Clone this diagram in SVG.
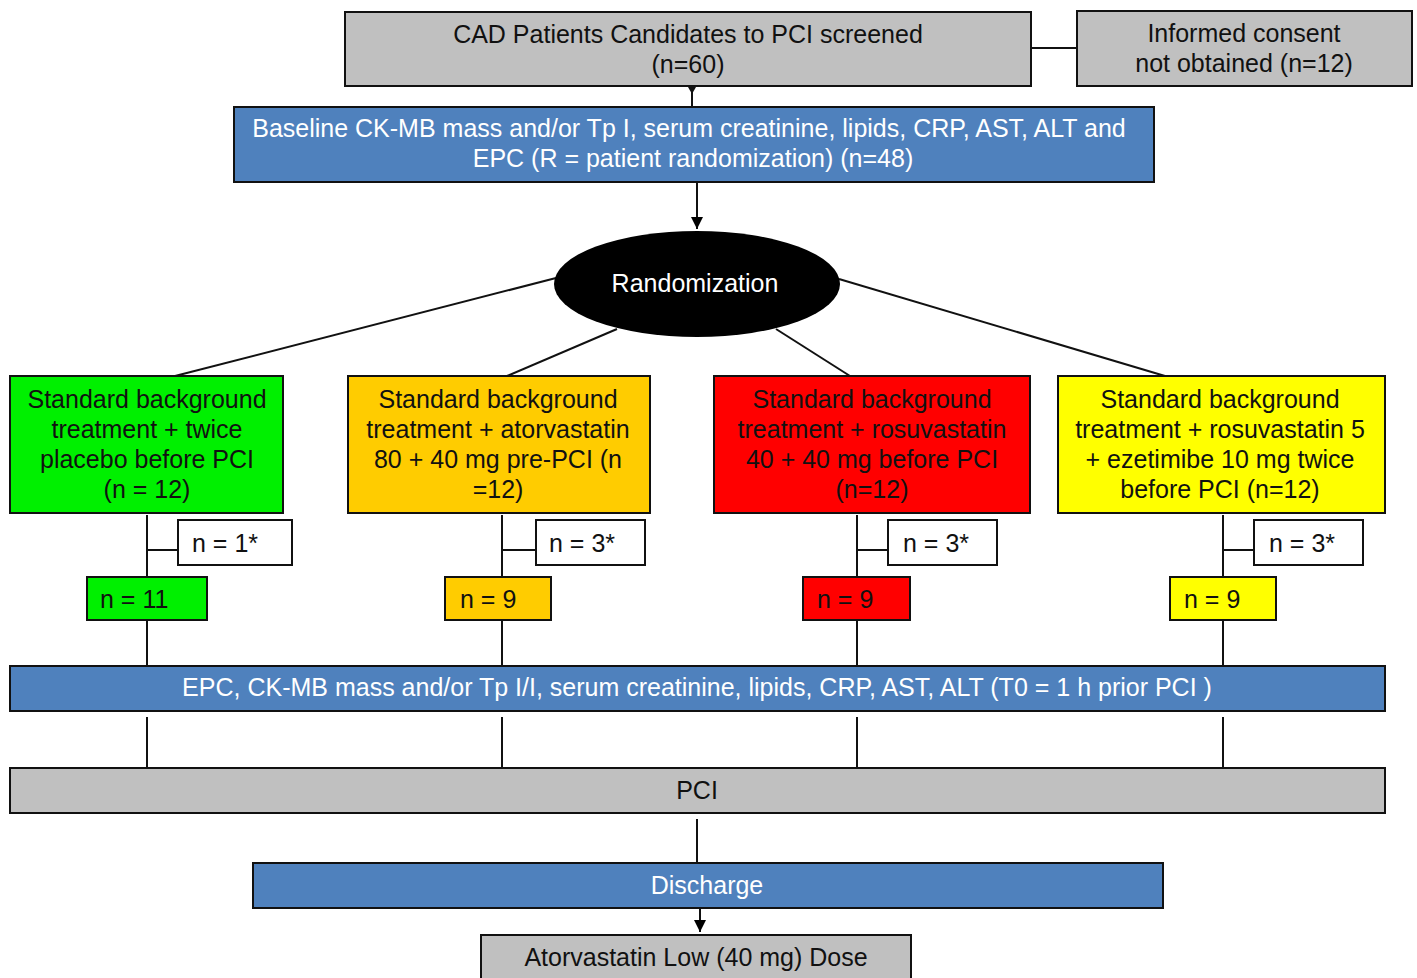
<svg xmlns="http://www.w3.org/2000/svg" width="1417" height="978" viewBox="0 0 1417 978">
<defs>
<marker id="arrb" viewBox="0 0 10 10" refX="10" refY="5" markerWidth="12" markerHeight="12" markerUnits="userSpaceOnUse" orient="auto">
<path d="M0,0 L10,5 L0,10 z" fill="#000"/>
</marker>
</defs>
<style>
.box{stroke:#111;stroke-width:2}
.gray{fill:#c0c0c0}
.blue{fill:#4f81bd}
.green{fill:#00f000}
.orange{fill:#ffcc00}
.red{fill:#ff0000}
.yellow{fill:#ffff00}
.white{fill:#fff}
text{font-family:"Liberation Sans",Arial,sans-serif;font-size:25px;fill:#111}
.c{text-anchor:middle}
.w{fill:#fff}
.ln{stroke:#111;stroke-width:2;fill:none}
</style>
<rect width="1417" height="978" fill="#fff"/>
<g id="connectors">
<line class="ln" x1="1031" y1="48" x2="1077" y2="48"/>
<line class="ln" x1="692" y1="86" x2="692" y2="107"/>
<polygon points="688,87 696,87 692,94" fill="#111"/>
<line class="ln" x1="697" y1="182" x2="697" y2="229" marker-end="url(#arrb)"/>
<line class="ln" x1="556" y1="278" x2="175" y2="376"/>
<line class="ln" x1="617" y1="329" x2="507" y2="376"/>
<line class="ln" x1="776" y1="329" x2="850" y2="376"/>
<line class="ln" x1="839" y1="279" x2="1165" y2="376"/>
<line class="ln" x1="147" y1="515" x2="147" y2="577"/>
<line class="ln" x1="147" y1="550" x2="178" y2="550"/>
<line class="ln" x1="147" y1="620" x2="147" y2="666"/>
<line class="ln" x1="502" y1="515" x2="502" y2="577"/>
<line class="ln" x1="502" y1="550" x2="536" y2="550"/>
<line class="ln" x1="502" y1="620" x2="502" y2="666"/>
<line class="ln" x1="857" y1="515" x2="857" y2="577"/>
<line class="ln" x1="857" y1="550" x2="888" y2="550"/>
<line class="ln" x1="857" y1="620" x2="857" y2="666"/>
<line class="ln" x1="1223" y1="515" x2="1223" y2="577"/>
<line class="ln" x1="1223" y1="550" x2="1254" y2="550"/>
<line class="ln" x1="1223" y1="620" x2="1223" y2="666"/>
<line class="ln" x1="147" y1="717" x2="147" y2="768"/>
<line class="ln" x1="502" y1="717" x2="502" y2="768"/>
<line class="ln" x1="857" y1="717" x2="857" y2="768"/>
<line class="ln" x1="1223" y1="717" x2="1223" y2="768"/>
<line class="ln" x1="697" y1="819" x2="697" y2="863"/>
<line class="ln" x1="700" y1="908" x2="700" y2="932" marker-end="url(#arrb)"/>
</g>
<g id="screened">
<rect class="box gray" x="345" y="12" width="686" height="74"/>
<text class="c" x="688" y="43">CAD Patients Candidates to PCI screened</text>
<text class="c" x="688" y="73">(n=60)</text>
</g>
<g id="consent">
<rect class="box gray" x="1077" y="11" width="335" height="75"/>
<text class="c" x="1244" y="42">Informed consent</text>
<text class="c" x="1244" y="72">not obtained (n=12)</text>
</g>
<g id="baseline">
<rect class="box blue" x="234" y="107" width="920" height="75"/>
<text class="c w" x="689" y="137">Baseline CK-MB mass and/or Tp I, serum creatinine, lipids, CRP, AST, ALT and</text>
<text class="c w" x="693" y="167">EPC (R = patient randomization) (n=48)</text>
</g>
<g id="randomization">
<ellipse cx="697" cy="284" rx="143" ry="53" fill="#000"/>
<text class="c w" x="695" y="292">Randomization</text>
</g>
<g id="placebo">
<rect class="box green" x="10" y="376" width="273" height="137"/>
<text class="c" x="147" y="408">Standard background</text>
<text class="c" x="147" y="438">treatment + twice</text>
<text class="c" x="147" y="468">placebo before PCI</text>
<text class="c" x="147" y="498">(n = 12)</text>
</g>
<g id="atorvastatin">
<rect class="box orange" x="348" y="376" width="302" height="137"/>
<text class="c" x="498" y="408">Standard background</text>
<text class="c" x="498" y="438">treatment + atorvastatin</text>
<text class="c" x="498" y="468">80 + 40 mg pre-PCI (n</text>
<text class="c" x="498" y="498">=12)</text>
</g>
<g id="rosuvastatin">
<rect class="box red" x="714" y="376" width="316" height="137"/>
<text class="c" x="872" y="408">Standard background</text>
<text class="c" x="872" y="438">treatment + rosuvastatin</text>
<text class="c" x="872" y="468">40 + 40 mg before PCI</text>
<text class="c" x="872" y="498">(n=12)</text>
</g>
<g id="ezetimibe">
<rect class="box yellow" x="1058" y="376" width="327" height="137"/>
<text class="c" x="1220" y="408">Standard background</text>
<text class="c" x="1220" y="438">treatment + rosuvastatin 5</text>
<text class="c" x="1220" y="468">+ ezetimibe 10 mg twice</text>
<text class="c" x="1220" y="498">before PCI (n=12)</text>
</g>
<g id="excl1">
<rect class="box white" x="178" y="520" width="114" height="45"/>
<text x="192" y="552">n = 1*</text>
</g>
<g id="excl2">
<rect class="box white" x="536" y="520" width="109" height="45"/>
<text x="549" y="552">n = 3*</text>
</g>
<g id="excl3">
<rect class="box white" x="888" y="520" width="109" height="45"/>
<text x="903" y="552">n = 3*</text>
</g>
<g id="excl4">
<rect class="box white" x="1254" y="520" width="109" height="45"/>
<text x="1269" y="552">n = 3*</text>
</g>
<g id="n11">
<rect class="box green" x="87" y="577" width="120" height="43"/>
<text x="100" y="608">n = 11</text>
</g>
<g id="n9a">
<rect class="box orange" x="445" y="577" width="106" height="43"/>
<text x="460" y="608">n = 9</text>
</g>
<g id="n9b">
<rect class="box red" x="803" y="577" width="107" height="43"/>
<text x="817" y="608">n = 9</text>
</g>
<g id="n9c">
<rect class="box yellow" x="1170" y="577" width="106" height="43"/>
<text x="1184" y="608">n = 9</text>
</g>
<g id="t0">
<rect class="box blue" x="10" y="666" width="1375" height="45"/>
<text class="c w" x="697" y="696">EPC, CK-MB mass and/or Tp I/I,  serum creatinine, lipids, CRP, AST, ALT (T0 = 1 h prior PCI )</text>
</g>
<g id="pci">
<rect class="box gray" x="10" y="768" width="1375" height="45"/>
<text class="c" x="697" y="799">PCI</text>
</g>
<g id="discharge">
<rect class="box blue" x="253" y="863" width="910" height="45"/>
<text class="c w" x="707" y="894">Discharge</text>
</g>
<g id="lowdose">
<rect class="box gray" x="481" y="935" width="430" height="50"/>
<text class="c" x="696" y="966">Atorvastatin Low (40 mg) Dose</text>
</g>
</svg>
